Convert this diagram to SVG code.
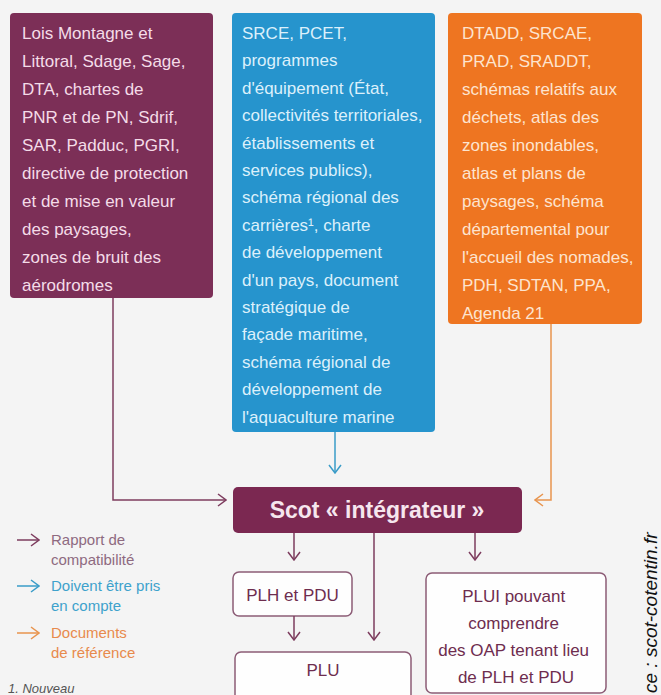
<svg xmlns="http://www.w3.org/2000/svg" width="661" height="695" viewBox="0 0 661 695">
<style>
.bt{font-family:"Liberation Sans",Arial,sans-serif;font-size:17px}
.tp{fill:#f4dce8}
.tb{fill:#dcf0fb}
.to{fill:#fde4cf}
.low{fill:#fefefe;stroke:#8c5c76;stroke-width:1.5}
.lt{font-family:"Liberation Sans",Arial,sans-serif;font-size:17px;fill:#6e2d4f;text-anchor:middle}
.lg{font-family:"Liberation Sans",Arial,sans-serif;font-size:15px}
.cp{fill:none;stroke:#7d3c5e;stroke-width:1.5}
.cb{fill:none;stroke:#3a9cc8;stroke-width:1.5}
.co{fill:none;stroke:#e8944e;stroke-width:1.5}
</style>
<defs>
<marker id="mp" viewBox="0 0 10 14" refX="9" refY="7" markerWidth="10" markerHeight="14" orient="auto" markerUnits="userSpaceOnUse"><path d="M1,1 L9,7 L1,13" fill="none" stroke="#7d3c5e" stroke-width="1.5"/></marker>
<marker id="mb" viewBox="0 0 10 14" refX="9" refY="7" markerWidth="10" markerHeight="14" orient="auto" markerUnits="userSpaceOnUse"><path d="M1,1 L9,7 L1,13" fill="none" stroke="#3a9cc8" stroke-width="1.5"/></marker>
<marker id="mo" viewBox="0 0 10 14" refX="9" refY="7" markerWidth="10" markerHeight="14" orient="auto" markerUnits="userSpaceOnUse"><path d="M1,1 L9,7 L1,13" fill="none" stroke="#e8944e" stroke-width="1.5"/></marker>
</defs>
<rect width="661" height="695" fill="#f4f4f4"/>

<g id="box-purple">
<rect x="10" y="13" width="203" height="285" rx="4" fill="#7c2f57"/>
<text class="bt tp">
<tspan x="22" y="39">Lois Montagne et</tspan>
<tspan x="22" y="67">Littoral, Sdage, Sage,</tspan>
<tspan x="22" y="95">DTA, chartes de</tspan>
<tspan x="22" y="123">PNR et de PN, Sdrif,</tspan>
<tspan x="22" y="151">SAR, Padduc, PGRI,</tspan>
<tspan x="22" y="179">directive de protection</tspan>
<tspan x="22" y="207">et de mise en valeur</tspan>
<tspan x="22" y="235">des paysages,</tspan>
<tspan x="22" y="263">zones de bruit des</tspan>
<tspan x="22" y="291">aérodromes</tspan>
</text>
</g>

<g id="box-blue">
<rect x="232" y="13" width="203" height="419" rx="4" fill="#2694cd"/>
<text class="bt tb">
<tspan x="242" y="39">SRCE, PCET,</tspan>
<tspan x="242" y="66.4">programmes</tspan>
<tspan x="242" y="93.8">d'équipement (État,</tspan>
<tspan x="242" y="121.2">collectivités territoriales,</tspan>
<tspan x="242" y="148.6">établissements et</tspan>
<tspan x="242" y="176">services publics),</tspan>
<tspan x="242" y="203.4">schéma régional des</tspan>
<tspan x="242" y="230.8">carrières¹, charte</tspan>
<tspan x="242" y="258.2">de développement</tspan>
<tspan x="242" y="285.6">d'un pays, document</tspan>
<tspan x="242" y="313">stratégique de</tspan>
<tspan x="242" y="340.4">façade maritime,</tspan>
<tspan x="242" y="367.8">schéma régional de</tspan>
<tspan x="242" y="395.2">développement de</tspan>
<tspan x="242" y="422.6">l'aquaculture marine</tspan>
</text>
</g>

<g id="box-orange">
<rect x="448" y="13" width="194" height="311" rx="4" fill="#ee7521"/>
<text class="bt to">
<tspan x="462" y="39">DTADD, SRCAE,</tspan>
<tspan x="462" y="67">PRAD, SRADDT,</tspan>
<tspan x="462" y="95">schémas relatifs aux</tspan>
<tspan x="462" y="123">déchets, atlas des</tspan>
<tspan x="462" y="151">zones inondables,</tspan>
<tspan x="462" y="179">atlas et plans de</tspan>
<tspan x="462" y="207">paysages, schéma</tspan>
<tspan x="462" y="235">départemental pour</tspan>
<tspan x="462" y="263">l'accueil des nomades,</tspan>
<tspan x="462" y="291">PDH, SDTAN, PPA,</tspan>
<tspan x="462" y="319">Agenda 21</tspan>
</text>
</g>

<g id="scot">
<rect x="233" y="487" width="289" height="46" rx="5" fill="#7b2851"/>
<text x="377" y="518" font-family="Liberation Sans,Arial,sans-serif" font-size="23" font-weight="bold" fill="#f6e6ee" text-anchor="middle">Scot « intégrateur »</text>
</g>

<g id="plh-pdu">
<rect class="low" x="233" y="572" width="119" height="44" rx="6"/>
<text class="lt" x="292.5" y="601">PLH et PDU</text>
</g>

<g id="plu">
<rect class="low" x="235" y="652" width="176" height="60" rx="6"/>
<text class="lt" x="323" y="676">PLU</text>
</g>

<g id="plui">
<rect class="low" x="426" y="573" width="180" height="120" rx="6"/>
<text class="lt">
<tspan x="516" y="602">PLUI pouvant</tspan>
<tspan x="516" y="629">comprendre</tspan>
<tspan x="516" y="656">des OAP tenant lieu</tspan>
<tspan x="516" y="683">de PLH et PDU</tspan>
</text>
</g>

<g id="connectors">
<path class="cp" d="M113,298 V500 H226" marker-end="url(#mp)"/>
<path class="cb" d="M335,432 V473" marker-end="url(#mb)"/>
<path class="co" d="M551,324 V500 H535" marker-end="url(#mo)"/>
<path class="cp" d="M294,533 V560" marker-end="url(#mp)"/>
<path class="cp" d="M374,533 V640" marker-end="url(#mp)"/>
<path class="cp" d="M475,533 V560" marker-end="url(#mp)"/>
<path class="cp" d="M294,616 V640" marker-end="url(#mp)"/>
</g>

<g id="legend">
<path class="cp" d="M17,540 H39" marker-end="url(#mp)"/>
<path class="cb" d="M17,586 H39" marker-end="url(#mb)"/>
<path class="co" d="M17,633 H39" marker-end="url(#mo)"/>
<text class="lg" fill="#8e6a80"><tspan x="51" y="545">Rapport de</tspan><tspan x="51" y="565">compatibilité</tspan></text>
<text class="lg" fill="#3ea2cc"><tspan x="51" y="591">Doivent être pris</tspan><tspan x="51" y="611">en compte</tspan></text>
<text class="lg" fill="#e88a4c"><tspan x="51" y="638">Documents</tspan><tspan x="51" y="658">de référence</tspan></text>
<text x="8" y="693" font-family="Liberation Sans,Arial,sans-serif" font-size="13" font-style="italic" fill="#555">1. Nouveau</text>
</g>

<text transform="translate(657,693) rotate(-90)" font-family="Liberation Sans,Arial,sans-serif" font-size="19" font-style="italic" fill="#111">ce : scot-cotentin.fr</text>
</svg>
